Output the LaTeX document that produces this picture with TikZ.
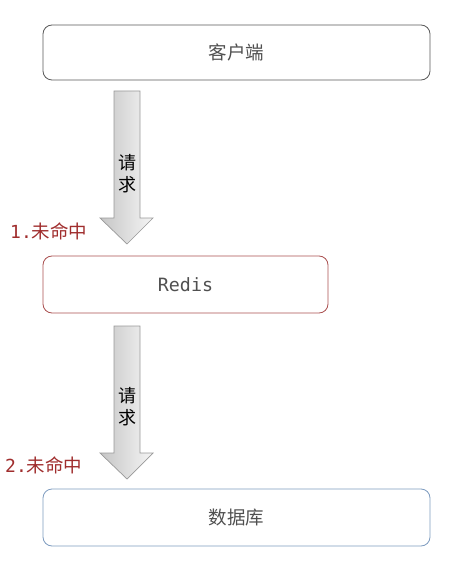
\documentclass[tikz,border=0pt]{standalone}
\usepackage{fontspec}
\setmainfont{Noto Sans CJK SC}
\newfontfamily\cjkf{Noto Sans CJK SC}
\newfontfamily\monof{DejaVu Sans Mono}
\definecolor{boxgray}{RGB}{90,90,90}
\definecolor{boxred}{RGB}{170,80,80}
\definecolor{boxblue}{RGB}{126,156,192}
\definecolor{labred}{RGB}{160,45,45}
\definecolor{txtgray}{RGB}{80,80,80}
\begin{document}
\begin{tikzpicture}[x=1pt,y=-1pt,
  box/.style={rounded corners=9pt, line width=0.8pt, fill=white, inner sep=0pt, font=\cjkf\fontsize{18.5}{20}\selectfont, text=txtgray},
  blockarrow/.style={draw=gray!80, line width=0.7pt, left color=gray!45, right color=gray!8},
  misslabel/.style={anchor=west, text=labred, inner sep=0pt},
  vtext/.style={font=\cjkf\fontsize{18}{22}\selectfont, align=center, inner sep=0pt}]
\useasboundingbox (0,0) rectangle (453,561);
\fill[white] (0,0) rectangle (453,561);

\node[box, draw=boxgray, minimum width=387pt, minimum height=55pt] (client) at (236.5,52.5) {客户端};
\node[box, draw=boxred, minimum width=285pt, minimum height=57pt, font=\monof\fontsize{18.3}{20}\selectfont] (redis) at (185.5,284.5) {Redis};
\node[box, draw=boxblue, minimum width=387pt, minimum height=57pt] (db) at (236.5,517.5) {数据库};

% arrow 1
\path[blockarrow] (114,91) -- (140,91) -- (140,218) -- (153,218) -- (127,244) -- (100,218) -- (114,218) -- cycle;
\node[vtext] (req1) at (127,174) {请\\求};
\node[misslabel] (miss1) at (10,231) {\monof\fontsize{18}{20}\selectfont 1.\cjkf\fontsize{18.5}{20}\selectfont 未命中};

% arrow 2
\path[blockarrow] (114,326) -- (140,326) -- (140,453) -- (153,453) -- (127,479) -- (100,453) -- (114,453) -- cycle;
\node[vtext] (req2) at (127,407) {请\\求};
\node[misslabel] (miss2) at (5,465) {\monof\fontsize{18}{20}\selectfont 2.\cjkf\fontsize{18.5}{20}\selectfont 未命中};
\end{tikzpicture}
\end{document}
